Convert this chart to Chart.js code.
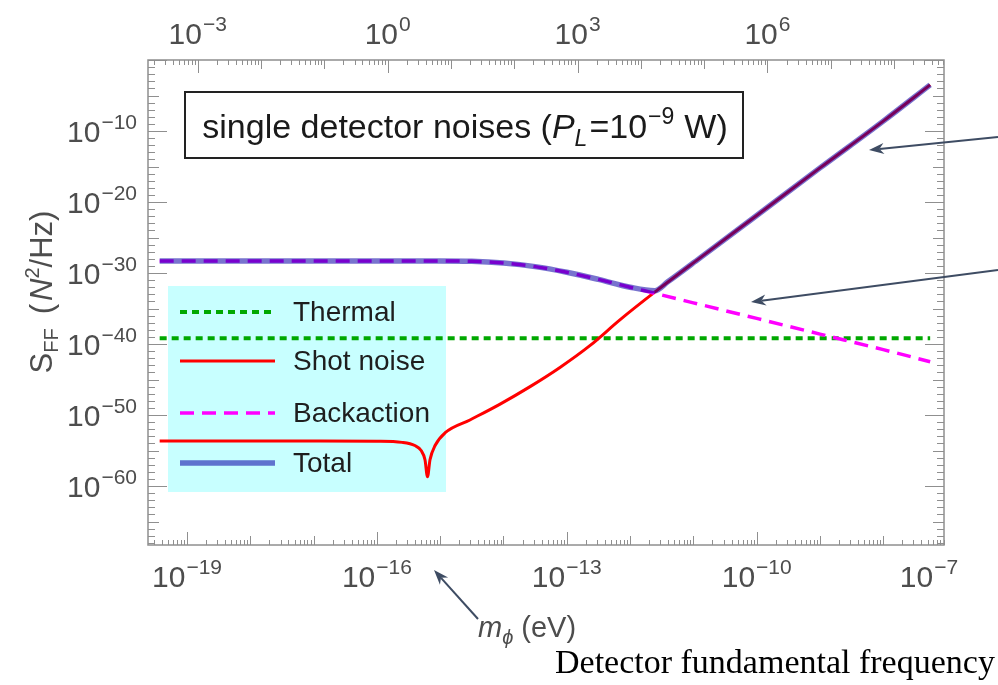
<!DOCTYPE html>
<html lang="en">
<head>
<meta charset="UTF-8">
<title>Single detector noises</title>
<script src="https://cdn.jsdelivr.net/npm/chart.js"></script>
<style>
  html, body { margin: 0; padding: 0; background: #fff; }
</style>
</head>
<body>
<canvas id="noiseChart" width="998" height="685"></canvas>
<script>
// masses in eV, noise PSD in N^2/Hz
const thermalMass = [3.7e-20, 5.5e-8];
const thermalPSD  = [6.3e-40, 6.3e-40];

const shotMass = [3.7e-20, 1e-17, 1e-16, 2.5e-16, 3.98e-16, 5.0e-16, 5.75e-16, 6.3e-16, 6.9e-16, 8.3e-16,
                  1.2e-15, 2.95e-15, 8.7e-15, 2.63e-14, 7.8e-14, 2.34e-13, 6.9e-13, 2.45e-12,
                  1.26e-11, 1e-10, 1e-9, 1e-8, 5.5e-8];
const shotPSD  = [2.2e-54, 2.2e-54, 2.0e-54, 1.4e-54, 5.0e-55, 1.0e-55, 5.0e-57, 2.0e-59, 5.0e-57, 5.0e-55,
                  3.2e-53, 2.0e-51, 3.2e-49, 1.0e-46, 5.0e-44, 6.3e-41, 2.5e-37, 2.0e-33,
                  1.26e-28, 1.26e-22, 6.3e-16, 2.5e-9, 3.2e-4];

const backMass = [3.7e-20, 1e-17, 1e-15, 3.16e-15, 1e-14, 3.16e-14, 1e-13, 3.16e-13, 1e-12, 3.16e-12,
                  1e-11, 1e-10, 1e-9, 1e-8, 5.5e-8];
const backPSD  = [5.0e-29, 5.0e-29, 5.0e-29, 4.5e-29, 2.5e-29, 7.9e-30, 1.26e-30, 1.26e-31, 1e-32, 7.9e-34,
                  6.3e-35, 4.0e-37, 2.5e-39, 1.6e-41, 3.2e-43];

const totalMass = [3.7e-20, 1e-17, 1e-15, 3.16e-15, 1e-14, 3.16e-14, 1e-13, 3.16e-13, 1e-12,
                   2.45e-12, 3.98e-12, 1.26e-11, 1e-10, 1e-9, 1e-8, 5.5e-8];
const totalPSD  = [5.0e-29, 5.0e-29, 5.0e-29, 4.5e-29, 2.5e-29, 7.9e-30, 1.26e-30, 1.26e-31, 1e-32,
                   3.2e-33, 6.3e-32, 1.26e-28, 1.26e-22, 6.3e-16, 2.5e-9, 3.2e-4];

const bottomLabelExps = [-19, -16, -13, -10, -7];
const topLabelExps = [-3, 0, 3, 6];
const leftLabelExps = [-10, -20, -30, -40, -50, -60];
const legendLabels = ['Thermal', 'Shot noise', 'Backaction', 'Total'];

// top axis is the same mass axis expressed as a frequency
const freqPerEV = Math.pow(10, 15.83);
const massMin = 2.42e-20, massMax = 9.1e-8;

const sans = '"Liberation Sans", Arial, sans-serif';
const axisGrey = '#8f8f8f';
const labelGrey = '#4d4d4d';

const styles = {
    thermal: { color: 'rgb(0,168,0)', width: 4, dash: [7, 5] },
    shot: { color: 'rgb(255,0,0)', width: 3, dash: [] },
    back: { color: 'rgb(255,0,255)', width: 3.5, dash: [14, 8] },
    total: { color: 'rgba(10,0,165,0.55)', width: 5.5, dash: [] }
};

function pts(xs, ys) {
    return xs.map((x, i) => ({ x: x, y: ys[i] }));
}

function runsWidth(ctx, runs) {
    let w = 0;
    runs.forEach(r => { ctx.font = r.font; w += ctx.measureText(r.text).width + (r.gap || 0); });
    return w;
}

function drawRuns(ctx, runs, x, y) {
    let cx = x;
    runs.forEach(r => {
        ctx.font = r.font;
        ctx.fillText(r.text, cx, y + (r.dy || 0));
        cx += ctx.measureText(r.text).width + (r.gap || 0);
    });
}

function powRuns(exp) {
    const sup = exp < 0 ? '\u2212' + (-exp) : String(exp);
    return [
        { text: '10', font: '30px ' + sans, gap: 1 },
        { text: sup, font: '21px ' + sans, dy: -13 }
    ];
}

function drawArrow(ctx, x1, y1, x2, y2) {
    const a = Math.atan2(y2 - y1, x2 - x1);
    const len = 15, half = 5.5;
    ctx.beginPath();
    ctx.moveTo(x1, y1);
    ctx.lineTo(x2 - Math.cos(a) * len * 0.7, y2 - Math.sin(a) * len * 0.7);
    ctx.stroke();
    ctx.beginPath();
    ctx.moveTo(x2, y2);
    ctx.lineTo(x2 - Math.cos(a) * len - Math.sin(a) * half, y2 - Math.sin(a) * len + Math.cos(a) * half);
    ctx.lineTo(x2 - Math.cos(a) * len * 0.7, y2 - Math.sin(a) * len * 0.7);
    ctx.lineTo(x2 - Math.cos(a) * len + Math.sin(a) * half, y2 - Math.sin(a) * len - Math.cos(a) * half);
    ctx.closePath();
    ctx.fill();
}

const backgroundPlugin = {
    id: 'backgroundAndLegend',
    beforeDatasetsDraw(chart) {
        const ctx = chart.ctx;
        ctx.save();
        // legend box sits under the curves
        ctx.fillStyle = '#c8ffff';
        ctx.fillRect(168, 286, 278, 206);
        const keys = ['thermal', 'shot', 'back', 'total'];
        const rows = [312, 361, 413, 463];
        keys.forEach((k, i) => {
            const s = styles[k];
            ctx.strokeStyle = s.color;
            ctx.lineWidth = s.width;
            ctx.setLineDash(s.dash);
            ctx.beginPath();
            ctx.moveTo(180, rows[i]);
            ctx.lineTo(275, rows[i]);
            ctx.stroke();
        });
        ctx.setLineDash([]);
        ctx.fillStyle = '#1e1e1e';
        ctx.font = '28px ' + sans;
        ctx.textBaseline = 'middle';
        legendLabels.forEach((t, i) => ctx.fillText(t, 293, rows[i] + 1));
        ctx.restore();
    },
    afterDraw(chart) {
        const ctx = chart.ctx;
        const a = chart.chartArea;
        const xs = chart.scales.x, xt = chart.scales.xTop, ys = chart.scales.y;
        ctx.save();

        // frame
        ctx.strokeStyle = axisGrey;
        ctx.lineWidth = 1.5;
        ctx.strokeRect(a.left, a.top, a.right - a.left, a.bottom - a.top);

        // ticks, all pointing inward
        ctx.lineWidth = 1;
        ctx.beginPath();
        for (let d = -20; d <= -7; d++) {
            for (let k = 1; k <= 9; k++) {
                const v = k * Math.pow(10, d);
                if (v < massMin || v > massMax) continue;
                const px = Math.round(xs.getPixelForValue(v)) + 0.5;
                const len = k === 1 ? (bottomLabelExps.includes(d) ? 13 : 9) : 5;
                ctx.moveTo(px, a.bottom);
                ctx.lineTo(px, a.bottom - len);
            }
        }
        for (let d = -4; d <= 8; d++) {
            for (let k = 1; k <= 9; k++) {
                const v = k * Math.pow(10, d);
                if (v < massMin * freqPerEV || v > massMax * freqPerEV) continue;
                const px = Math.round(xt.getPixelForValue(v)) + 0.5;
                const len = k === 1 ? (topLabelExps.includes(d) ? 13 : 9) : 5;
                ctx.moveTo(px, a.top);
                ctx.lineTo(px, a.top + len);
            }
        }
        for (let d = -68; d <= 0; d++) {
            const py = Math.round(ys.getPixelForValue(Math.pow(10, d))) + 0.5;
            const len = d % 10 === 0 ? 19 : (d % 5 === 0 ? 11 : 7);
            ctx.moveTo(a.left, py);
            ctx.lineTo(a.left + len, py);
            ctx.moveTo(a.right, py);
            ctx.lineTo(a.right - len, py);
        }
        ctx.stroke();

        // tick labels
        ctx.fillStyle = labelGrey;
        ctx.textBaseline = 'alphabetic';
        ctx.textAlign = 'left';
        bottomLabelExps.forEach(d => {
            const runs = powRuns(d);
            const w = runsWidth(ctx, runs);
            const cx = Math.min(xs.getPixelForValue(Math.pow(10, d)), a.right - 15);
            drawRuns(ctx, runs, cx - w / 2, 587);
        });
        topLabelExps.forEach(d => {
            const runs = powRuns(d);
            const w = runsWidth(ctx, runs);
            drawRuns(ctx, runs, xt.getPixelForValue(Math.pow(10, d)) - w / 2, 44);
        });
        leftLabelExps.forEach(d => {
            const runs = powRuns(d);
            const w = runsWidth(ctx, runs);
            drawRuns(ctx, runs, 137 - w, ys.getPixelForValue(Math.pow(10, d)) + 11);
        });

        // y axis title
        const yRuns = [
            { text: 'S', font: '31px ' + sans },
            { text: 'FF', font: '20px ' + sans, dy: 6, gap: 14 },
            { text: '(', font: '31px ' + sans, gap: 3 },
            { text: 'N', font: 'italic 31px ' + sans },
            { text: '2', font: '20px ' + sans, dy: -13 },
            { text: '/Hz)', font: '31px ' + sans }
        ];
        ctx.save();
        ctx.translate(41, 292);
        ctx.rotate(-Math.PI / 2);
        drawRuns(ctx, yRuns, -runsWidth(ctx, yRuns) / 2, 11);
        ctx.restore();

        // x axis title
        drawRuns(ctx, [
            { text: 'm', font: 'italic 29px ' + sans },
            { text: '\u03d5', font: 'italic 20px ' + sans, dy: 7, gap: 8 },
            { text: '(eV)', font: '29px ' + sans }
        ], 478, 637);

        ctx.fillStyle = '#000';
        ctx.font = '34px "Liberation Serif", "Times New Roman", serif';
        ctx.fillText('Detector fundamental frequency', 555, 673);

        // title box
        ctx.fillStyle = '#fff';
        ctx.fillRect(185, 92, 558, 66);
        ctx.strokeStyle = '#222';
        ctx.lineWidth = 2;
        ctx.strokeRect(185, 92, 558, 66);
        const titleRuns = [
            { text: 'single detector noises (', font: '34px ' + sans },
            { text: 'P', font: 'italic 34px ' + sans },
            { text: 'L', font: 'italic 23px ' + sans, dy: 8, gap: 2 },
            { text: '=10', font: '34px ' + sans, gap: 1 },
            { text: '\u22129', font: '23px ' + sans, dy: -14, gap: 10 },
            { text: 'W)', font: '34px ' + sans }
        ];
        ctx.fillStyle = '#1a1a1a';
        drawRuns(ctx, titleRuns, 465 - runsWidth(ctx, titleRuns) / 2, 138);

        // annotation arrows
        ctx.strokeStyle = '#3e4c63';
        ctx.fillStyle = '#3e4c63';
        ctx.lineWidth = 2;
        drawArrow(ctx, 998, 137, 869, 150);
        drawArrow(ctx, 998, 270, 751, 302);
        drawArrow(ctx, 478, 619, 434, 570);
        ctx.restore();
    }
};

function lineSet(label, data, s) {
    return {
        label: label,
        data: data,
        borderColor: s.color,
        borderWidth: s.width,
        borderDash: s.dash,
        borderCapStyle: 'butt',
        pointRadius: 0,
        fill: false,
        cubicInterpolationMode: 'monotone'
    };
}

new Chart(document.getElementById('noiseChart').getContext('2d'), {
    type: 'line',
    data: {
        datasets: [
            lineSet('Total', pts(totalMass, totalPSD), styles.total),
            lineSet('Backaction', pts(backMass, backPSD), styles.back),
            lineSet('Shot noise', pts(shotMass, shotPSD), styles.shot),
            lineSet('Thermal', pts(thermalMass, thermalPSD), styles.thermal)
        ]
    },
    options: {
        responsive: false,
        animation: false,
        events: [],
        layout: { padding: { left: 148, right: 54, top: 60, bottom: 140 } },
        scales: {
            x: { type: 'logarithmic', min: massMin, max: massMax, display: false },
            xTop: { type: 'logarithmic', position: 'top', min: massMin * freqPerEV, max: massMax * freqPerEV, display: false },
            y: { type: 'logarithmic', min: 4.9e-69, max: 1, display: false }
        },
        plugins: {
            legend: { display: false },
            tooltip: { enabled: false }
        }
    },
    plugins: [backgroundPlugin]
});
</script>
</body>
</html>
